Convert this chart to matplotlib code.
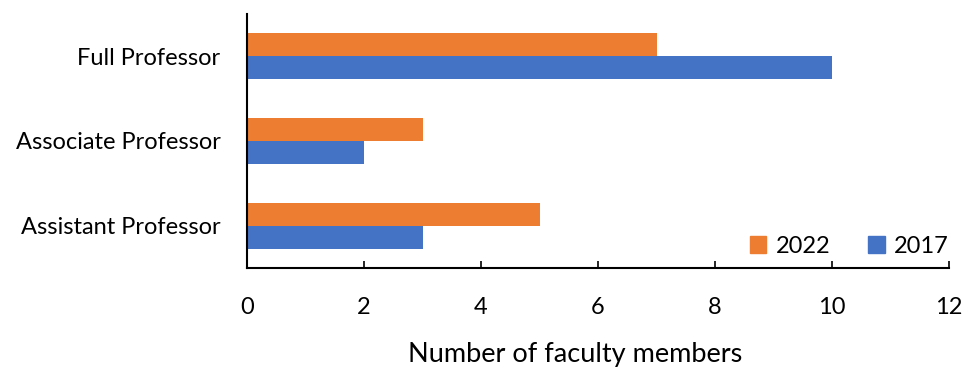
import numpy as np
import matplotlib
matplotlib.use("Agg")
from matplotlib import pyplot as plt
from matplotlib.patches import Patch

# faculty counts by rank
ranks = ['Assistant Professor', 'Associate Professor', 'Full Professor']
counts_2017 = [3, 2, 10]
counts_2022 = [5, 3, 7]

plt.rcParams['font.family'] = ['Lato', 'DejaVu Sans']

fig = plt.figure(figsize=(9.66, 3.73), dpi=100, facecolor='w')
ax = fig.add_axes([0.2557, 0.2815, 0.7267, 0.681])

y = np.arange(len(ranks))
h = 0.27
ax.barh(y - h / 2, counts_2017, height=h, color='#4472C4', label='2017')
ax.barh(y + h / 2, counts_2022, height=h, color='#ED7D31', label='2022')

ax.set_ylim(-0.5, 2.5)
ax.set_xlim(0, 12)
ax.set_xticks(range(0, 13, 2))
ax.set_yticks(y)
ax.set_yticklabels(ranks, fontsize=17)
ax.tick_params(axis='y', length=0, pad=19)
ax.tick_params(axis='x', direction='in', length=5, width=1.2, labelsize=17, pad=21)

for s in ['top', 'right']:
    ax.spines[s].set_visible(False)
ax.spines['left'].set_linewidth(1.5)
ax.spines['bottom'].set_linewidth(1.5)

ax.set_xlabel('Number of faculty members', fontsize=19.5)
ax.xaxis.set_label_coords(0.467, -0.29)

handles = [Patch(color='#ED7D31', label='2022'), Patch(color='#4472C4', label='2017')]
ax.legend(handles=handles, loc='lower right', ncol=2, frameon=False, fontsize=17,
          handlelength=0.7, handleheight=0.7, handletextpad=0.4, columnspacing=1.6,
          bbox_to_anchor=(1.03, -0.04))

plt.savefig('out.png', dpi=100)
